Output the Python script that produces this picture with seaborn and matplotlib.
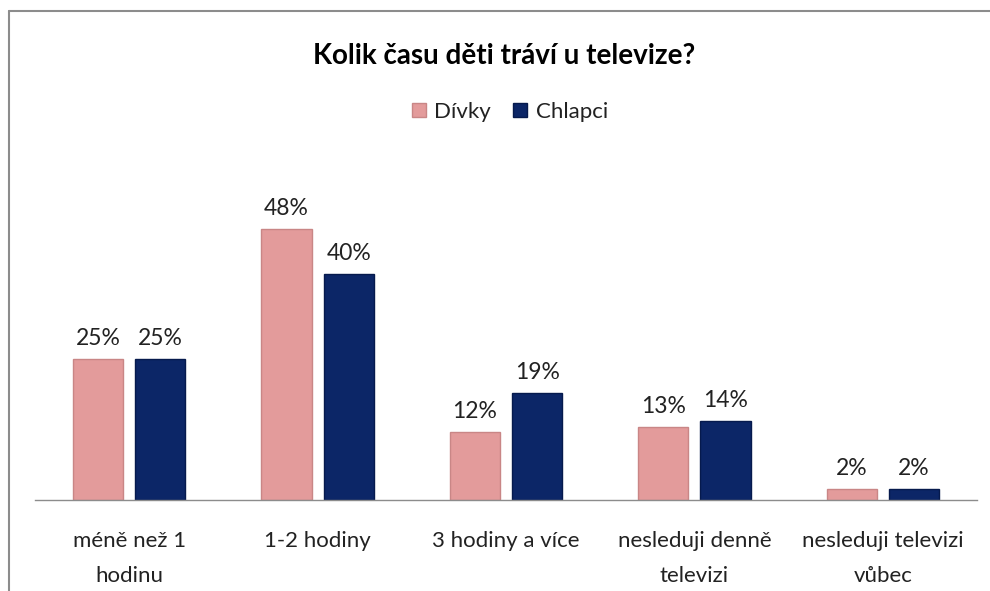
import matplotlib.pyplot as plt
import pandas as pd
import seaborn as sns
from matplotlib.lines import Line2D

categories = [
    "méně než 1\nhodinu",
    "1-2 hodiny",
    "3 hodiny a více",
    "nesleduji denně\ntelevizi",
    "nesleduji televizi\nvůbec",
]
divky = [25, 48, 12, 13, 2]
chlapci = [25, 40, 19, 14, 2]
series = ["Dívky", "Chlapci"]
title = "Kolik času děti tráví u televize?"

colors = {"Dívky": "#E39B9B", "Chlapci": "#0C2667"}
edges = {"Dívky": "#C98686", "Chlapci": "#061A4D"}

sns.set_theme(style="white")
plt.rcParams["font.family"] = ["Lato", "DejaVu Sans"]

df = pd.DataFrame(
    {
        "kategorie": categories * 2,
        "hodnota": divky + chlapci,
        "pohlavi": [series[0]] * len(categories) + [series[1]] * len(categories),
    }
)

W, H = 990, 591
fig = plt.figure(figsize=(W / 100, H / 100), dpi=100)
# axes area in pixels: x 35..977, baseline at y=500, top at y=130
ax = fig.add_axes([35 / W, (H - 500) / H, (977 - 35) / W, (500 - 130) / H])

sns.barplot(
    data=df,
    x="kategorie",
    y="hodnota",
    hue="pohlavi",
    palette=colors,
    width=0.66,
    gap=0.19,
    edgecolor="none",
    saturation=1,
    legend=False,
    ax=ax,
)

# subtle darker outline like the bevelled bars in the original
for cont, s in zip(ax.containers, series):
    for bar in cont:
        bar.set_edgecolor(edges[s])
        bar.set_linewidth(1.0)

for cont, vals in zip(ax.containers, [divky, chlapci]):
    ax.bar_label(cont, labels=[f"{v}%" for v in vals], padding=7,
                 fontsize=16.5, color="#222222")

ax.set_ylim(0, 65.5)
ax.set_xlim(-0.5, len(categories) - 0.5)
ax.set_xlabel("")
ax.set_ylabel("")
ax.set_yticks([])
for s in ["top", "right", "left"]:
    ax.spines[s].set_visible(False)
ax.spines["bottom"].set_color("#8c8c8c")
ax.spines["bottom"].set_linewidth(1.0)
ax.tick_params(axis="x", length=0, pad=22, labelsize=16, labelcolor="#222222")
for lbl in ax.get_xticklabels():
    lbl.set_linespacing(1.95)

fig.text(504 / W, 1 - 56 / H, title, ha="center", va="center",
         fontsize=20, fontweight="bold", color="black")

handles = [
    plt.Rectangle((0, 0), 1, 1, facecolor=colors[s], edgecolor=edges[s])
    for s in series
]
fig.legend(handles, series, loc="center", bbox_to_anchor=(510 / W, 1 - 112 / H),
           ncol=2, frameon=False, fontsize=16, handlelength=0.6,
           handleheight=0.6, handletextpad=0.4, columnspacing=1.0,
           labelcolor="#222222")

# chart frame (cut off at right and bottom)
fig.add_artist(Line2D([8.5 / W, 8.5 / W], [0, 1 - 11 / H], transform=fig.transFigure,
                      color="#8c8c8c", linewidth=1.5))
fig.add_artist(Line2D([8.5 / W, 1], [1 - 11 / H, 1 - 11 / H], transform=fig.transFigure,
                      color="#8c8c8c", linewidth=1.5))

fig.savefig("out.png", dpi=100)
